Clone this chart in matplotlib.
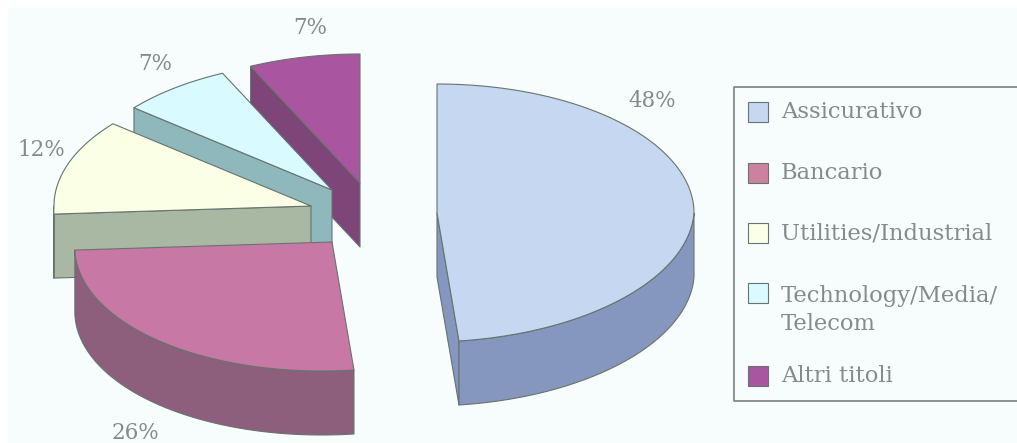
import matplotlib
matplotlib.use("Agg")
import matplotlib.pyplot as plt
import numpy as np
from matplotlib.patches import Polygon, Rectangle

# Composizione del portafoglio per settore
settori = ["Assicurativo", "Bancario", "Utilities/Industrial", "Technology/Media/\nTelecom", "Altri titoli"]
quote = [48, 26, 12, 7, 7]

colori_top = ["#C6D8F1", "#C878A4", "#FBFFE6", "#D9FBFF", "#A9559F"]
colori_lato = ["#8597BF", "#8E5F7C", "#A9B8A3", "#8FB8BC", "#7E4579"]
colori_legenda = ["#C6D8F1", "#CC829E", "#FBFFE6", "#D9FBFF", "#A9559F"]

# Centro di ogni fetta (esplosa) in pixel e posizione delle etichette
centri = [(437, 213), (332, 242), (311, 206), (332, 190), (360, 183)]
pos_etichette = [(652, 101), (135, 433), (41, 150), (155, 64), (310, 28)]
ordine = [4, 3, 2, 1, 0]

RX, RY, ALTEZZA = 257, 129, 64
SKEW = 0.08
BORDO = "#66746E"
GRIGIO = "#838C89"

fig = plt.figure(figsize=(10.17, 4.43), dpi=100, facecolor="white")
ax = fig.add_axes([0, 0, 1, 1])
ax.set_xlim(0, 1017)
ax.set_ylim(443, 0)
ax.axis("off")
ax.add_patch(Rectangle((8, 8), 1009, 435, fc="#F7FDFD", ec="none", zorder=0))


def proietta(cx, cy, gradi):
    # da angolo orario (da ore 12) a pixel sull'ellisse della faccia superiore
    t = np.radians(gradi)
    x = RX * np.sin(t)
    y = -RY * np.cos(t)
    return np.column_stack([cx + x - SKEW * np.maximum(y, 0), cy + y])


def faccia(punti, colore, z):
    ax.add_patch(Polygon(punti, closed=True, fc=colore, ec=BORDO, lw=0.8, joinstyle="round", zorder=z))


angoli = np.concatenate([[0], np.cumsum(quote) * 3.6])

for z, i in enumerate(ordine):
    inizio, fine = angoli[i], angoli[i + 1]
    cx, cy = centri[i]
    base = 10 + z * 5
    giu = np.array([0, ALTEZZA])
    punta = np.array([[cx, cy]])

    # pareti radiali visibili dall'osservatore
    for ang, visibile in ((inizio, 180 < inizio < 360), (fine, 0 < fine < 180)):
        if visibile:
            bordo = proietta(cx, cy, np.array([ang]))
            faccia(np.vstack([punta, bordo, bordo + giu, punta + giu]), colori_lato[i], base)

    # parete esterna, solo nella metà anteriore
    a0, a1 = max(inizio, 90), min(fine, 270)
    if a1 > a0:
        arco = proietta(cx, cy, np.linspace(a0, a1, 80))
        faccia(np.vstack([arco, (arco + giu)[::-1]]), colori_lato[i], base + 1)

    # faccia superiore
    arco = proietta(cx, cy, np.linspace(inizio, fine, 120))
    faccia(np.vstack([punta, arco]), colori_top[i], base + 2)

for v, (x, y) in zip(quote, pos_etichette):
    ax.text(x, y, f"{v}%", family="DejaVu Serif", fontsize=15.5, color=GRIGIO, ha="center", va="center", zorder=50)

# Legenda, aperta sul lato destro
ax.plot([1017, 734, 734, 1017], [87, 87, 401, 401], color="#7F8C87", lw=1.3, zorder=40)
y_quadrati = [112, 173, 233, 293, 376]
y_testi = [112, 173, 233, 310, 376]
for nome, colore, ys, yt in zip(settori, colori_legenda, y_quadrati, y_testi):
    ax.add_patch(Rectangle((748, ys - 10), 20, 20, fc=colore, ec=BORDO, lw=0.8, zorder=41))
    ax.text(781, yt, nome, family="DejaVu Serif", fontsize=16.3, color=GRIGIO, ha="left", va="center", linespacing=1.3, zorder=41)

fig.savefig("out.png", dpi=100)
